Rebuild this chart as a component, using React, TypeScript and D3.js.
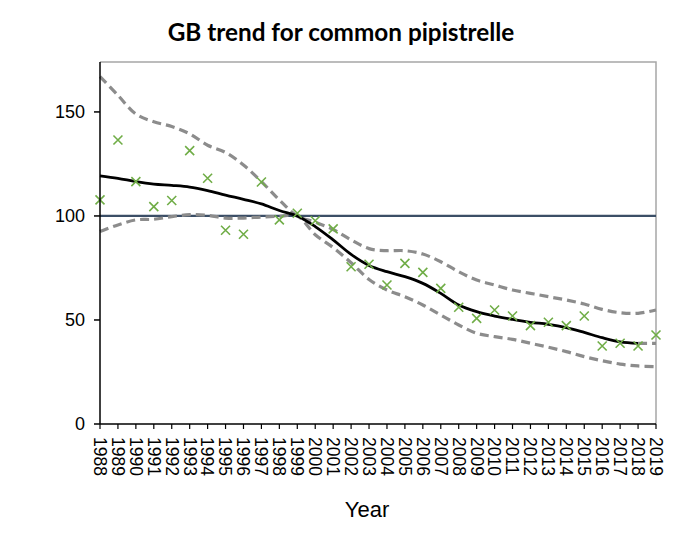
import React from "react";
import * as d3 from "d3";

const years: number[] = d3.range(1988, 2020);
const observed: number[] = [107.7, 136.5, 116.5, 104.5, 107.4, 131.4, 118.1, 93.1, 91.2, 116.3, 98.1, 101.3, 97.7, 93.8, 75.6, 76.8, 66.8, 77.2, 72.9, 65.2, 56.1, 50.8, 54.8, 51.9, 47.3, 48.9, 47.3, 51.9, 37.5, 38.8, 37.5, 42.8];
const trend: number[] = [119.3, 118.1, 116.5, 115.3, 114.7, 113.9, 112.2, 110.0, 108.0, 105.8, 102.6, 100, 94.9, 88.5, 81.5, 76.2, 73.2, 70.8, 67.6, 62.8, 57.2, 54.0, 51.9, 50.3, 48.9, 47.9, 46.3, 44.0, 41.5, 39.5, 38.8, 38.8];
const upper: number[] = [167, 158, 149, 145.3, 143, 139.5, 134, 130.5, 124.5, 116.5, 107.7, 100, 97, 93.5, 88.5, 84.3, 83.3, 83.3, 81.7, 78, 73.2, 69.2, 66.8, 64.4, 62.8, 61.2, 59.6, 57.7, 55.1, 53.5, 53.2, 54.8];
const lower: number[] = [92.5, 95.7, 98.1, 98.4, 99.7, 100.6, 100.3, 99.0, 99.0, 99.5, 99.8, 100, 91, 84.8, 77.5, 69.5, 64.4, 61.2, 57.2, 52.4, 47.6, 43.6, 42, 40.7, 38.8, 36.9, 34.8, 32.4, 30.4, 28.8, 27.9, 27.6];
const yTicks: number[] = [0, 50, 100, 150];
const baseline = 100;

export default function App() {
  const W = 696, H = 541;
  const left = 100, right = 656, top = 62, bottom = 424;
  const x = d3.scaleLinear().domain([1988, 2019]).range([left, right]);
  const y = d3.scaleLinear().domain([0, 174]).range([bottom, top]);
  const line = d3
    .line<[number, number]>()
    .x((d) => x(d[0]))
    .y((d) => y(d[1]))
    .curve(d3.curveCatmullRom.alpha(0.5));
  const pts = (arr: number[], n = arr.length) => years.slice(0, n).map((yr, i) => [yr, arr[i]] as [number, number]);
  const trendMain = pts(trend, 31);
  const trendTail: [number, number][] = [
    [years[30], trend[30]],
    [years[31], trend[31]],
  ];
  const font = "'Liberation Sans', Arial, sans-serif";
  const ms = 4.5;
  return (
    <svg width={W} height={H} style={{ position: "absolute", left: 0, top: 0, background: "#fff" }}>
      <rect x={0} y={0} width={W} height={H} fill="#fff" />
      <text x={341} y={41} textAnchor="middle" fontFamily="Lato, 'Open Sans', sans-serif" fontWeight="bold" fontSize={24.3} fill="#000">
        GB trend for common pipistrelle
      </text>
      {/* plot border top/right */}
      <path d={`M${left},${top}H${right}V${bottom}`} fill="none" stroke="#a6a6a6" strokeWidth={1.5} />
      {/* baseline 100 */}
      <line x1={left} x2={right} y1={y(baseline)} y2={y(baseline)} stroke="#3b4e66" strokeWidth={2.2} />
      {/* CI */}
      <path d={line(pts(upper)) || ""} fill="none" stroke="#8c8c8c" strokeWidth={3.2} strokeDasharray="9,5" />
      <path d={line(pts(lower)) || ""} fill="none" stroke="#8c8c8c" strokeWidth={3.2} strokeDasharray="9,5" />
      {/* trend */}
      <path d={line(trendMain) || ""} fill="none" stroke="#000" strokeWidth={2.8} />
      <path d={line(trendTail) || ""} fill="none" stroke="#8c8c8c" strokeWidth={3.2} strokeDasharray="9,5" />
      {/* observed */}
      {observed.map((v, i) => {
        const cx = x(years[i]), cy = y(v);
        return (
          <path
            key={i}
            d={`M${cx - ms},${cy - ms}L${cx + ms},${cy + ms}M${cx - ms},${cy + ms}L${cx + ms},${cy - ms}`}
            stroke="#70AD47"
            strokeWidth={1.6}
            fill="none"
          />
        );
      })}
      {/* axes */}
      <line x1={left} x2={left} y1={top} y2={bottom} stroke="#000" strokeWidth={1.5} />
      <line x1={left} x2={right} y1={bottom} y2={bottom} stroke="#000" strokeWidth={1.5} />
      {yTicks.map((t) => (
        <g key={t}>
          <line x1={left - 6} x2={left} y1={y(t)} y2={y(t)} stroke="#000" strokeWidth={1.5} />
          <text x={left - 15} y={y(t)} dy="0.36em" textAnchor="end" fontFamily={font} fontSize={18} fill="#000">
            {t}
          </text>
        </g>
      ))}
      {years.map((yr) => (
        <g key={yr}>
          <line x1={x(yr)} x2={x(yr)} y1={bottom} y2={bottom + 5} stroke="#000" strokeWidth={1.2} />
          <text
            transform={`translate(${x(yr)},${bottom + 13}) rotate(90)`}
            dy="0.35em"
            textAnchor="start"
            fontFamily={font}
            fontSize={17.5}
            fill="#000"
          >
            {yr}
          </text>
        </g>
      ))}
      <text x={367} y={517} textAnchor="middle" fontFamily={font} fontSize={22} fill="#000">
        Year
      </text>
    </svg>
  );
}
